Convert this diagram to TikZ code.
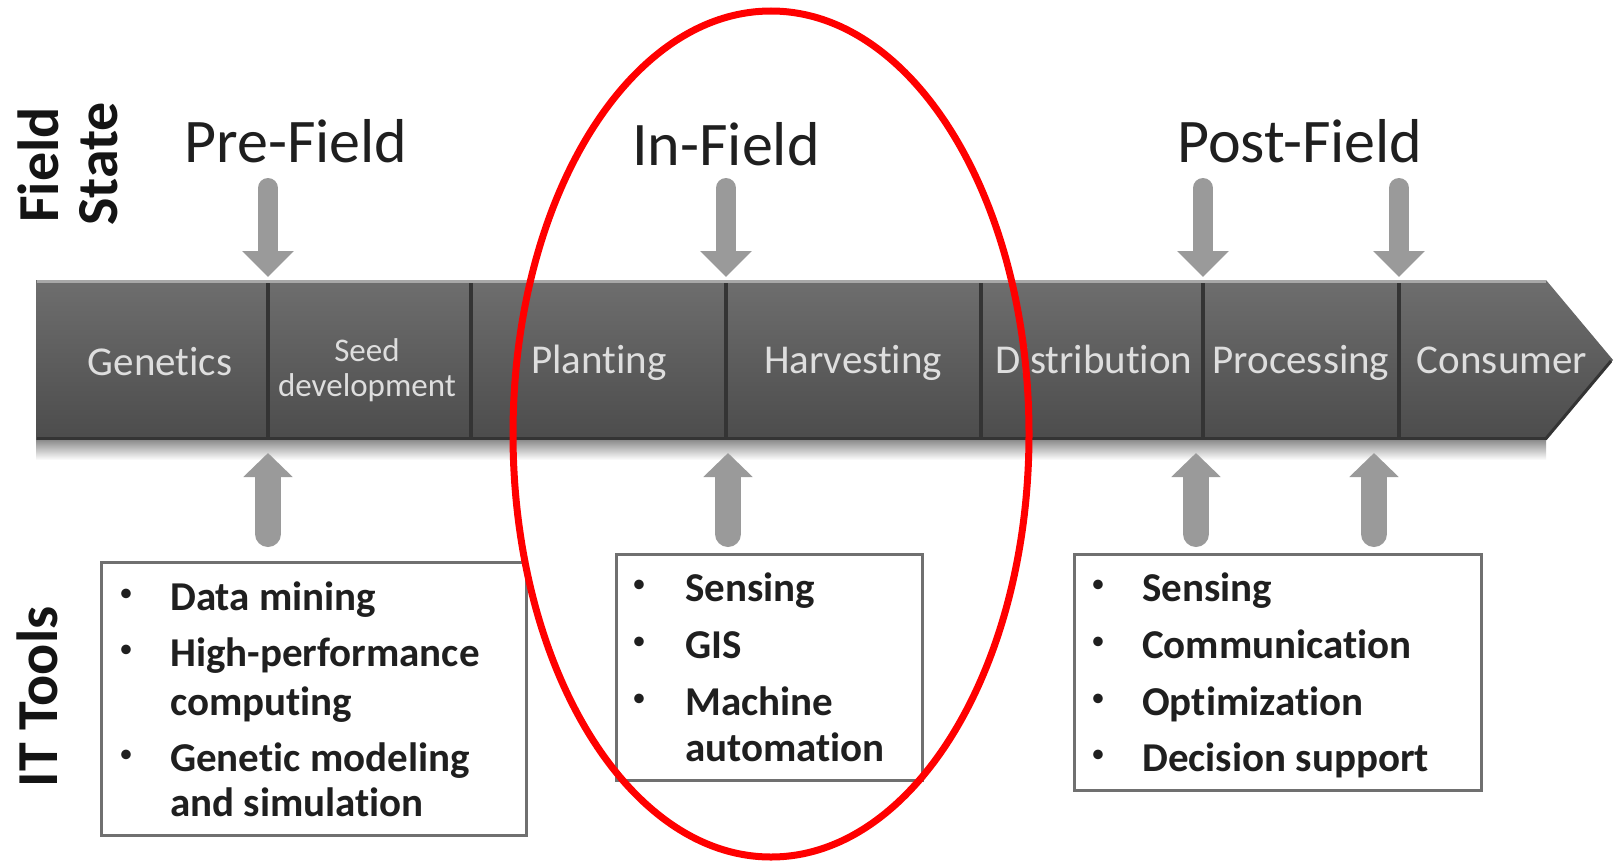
\documentclass[tikz,border=0pt]{standalone}
\usepackage{fontspec}
\setmainfont{Carlito}[Ligatures=NoCommon]
\usetikzlibrary{arrows.meta}
\definecolor{bartop}{HTML}{6E6E6E}
\definecolor{barbot}{HTML}{4C4C4C}
\definecolor{barhi}{HTML}{A8A8A8}
\definecolor{bardark}{HTML}{343434}
\definecolor{barlabc}{HTML}{DEDEDE}
\definecolor{arrowgray}{HTML}{9A9A9A}
\definecolor{boxgray}{HTML}{707070}
\definecolor{ovalred}{HTML}{FF0000}
\tikzset{
  hdr/.style={font=\fontsize{62}{70}\selectfont, text=black!88, anchor=base, inner sep=0pt},
  barlab/.style={font=\fontsize{41}{46}\selectfont, text=barlabc, anchor=base, inner sep=0pt},
  smallbarlab/.style={font=\fontsize{33}{38}\selectfont, text=barlabc, anchor=base, inner sep=0pt},
  sidelab/.style={font=\bfseries\fontsize{58}{64}\selectfont, text=black!92, rotate=90, anchor=base, inner sep=0pt},
  item/.style={font=\bfseries\fontsize{41}{46}\selectfont, text=black!88, anchor=base west, inner sep=0pt},
  bul/.style={font=\fontsize{27}{30}\selectfont, text=black!88, anchor=center, inner sep=0pt},
  toolbox/.style={draw=boxgray, line width=3pt, fill=white, inner sep=0pt},
  divider/.style={draw=bardark, line width=3.5pt},
  blockdown/.style={draw=arrowgray, line width=20pt, line cap=round, -{Triangle[width=50pt,length=26pt]}},
  blockup/.style={draw=arrowgray, line width=26pt, line cap=round, -{Triangle[width=48pt,length=24pt]}},
}
\begin{document}
\begin{tikzpicture}[x=1pt,y=-1pt]
\useasboundingbox (0,0) rectangle (1616,864);
\fill[white] (0,0) rectangle (1616,864);

% ---- process bar ----
\shade[top color=bartop, bottom color=barbot]
  (36,280) -- (1546,280) -- (1613,360) -- (1546,440) -- (36,440) -- cycle;
\draw[barhi, line width=3pt] (37,281.5) -- (1546,281.5);
\draw[bardark, line width=3pt] (37,438.5) -- (1546,438.5) -- (1611,361);
\shade[top color=black!45, bottom color=white] (36,440) rectangle (1546,460);

\coordinate (b1) at (268,280);
\coordinate (b2) at (471,280);
\coordinate (b3) at (726,280);
\coordinate (b4) at (981,280);
\coordinate (b5) at (1203,280);
\coordinate (b6) at (1399,280);
\foreach \c in {b1,b2,b3,b4,b5,b6}
  \draw[divider] ([yshift=-3pt]\c) -- ++(0,157);

% ---- bar labels ----
\node[barlab] (genetics) at (160,375) {Genetics};
\node[smallbarlab] (seed) at (367,361) {Seed};
\node[smallbarlab] (seeddev) at (367,396) {development};
\node[barlab] (planting) at (599,373) {Planting};
\node[barlab] (harvesting) at (853,373) {Harvesting};
\node[barlab] (distribution) at (1094,373) {Distribution};
\node[barlab] (processing) at (1301,373) {Processing};
\node[barlab] (consumer) at (1502,373) {Consumer};

% ---- headers ----
\node[hdr] (pre) at (296,162) {Pre-Field};
\node[hdr] (in) at (726,165) {In-Field};
\node[hdr] (post) at (1300,162) {Post-Field};

\node[sidelab] (field) at (58,165) {Field};
\node[sidelab] (state) at (117,164) {State};
\node[sidelab] (ittools) at (57,697) {IT Tools};

% ---- down arrows (field state -> bar) ----
\coordinate (s1) at (268,188);
\coordinate (s2) at (726,188);
\coordinate (s3) at (1203,188);
\coordinate (s4) at (1399,188);
\draw[blockdown] (s1) -- ([yshift=3pt]b1);
\draw[blockdown] (s2) -- ([yshift=3pt]b3);
\draw[blockdown] (s3) -- ([yshift=3pt]b5);
\draw[blockdown] (s4) -- ([yshift=3pt]b6);

% ---- tool boxes ----
\node[toolbox, minimum width=425pt, minimum height=273pt] (box1) at (313.5,698.5) {};
\node[toolbox, minimum width=306pt, minimum height=226pt] (box2) at (769,667) {};
\node[toolbox, minimum width=407pt, minimum height=236pt] (box3) at (1277.5,672) {};

% box 1
\node[bul] (b1i1) at (126,595) {•};
\node[item] (t1i1) at (170,610) {Data mining};
\node[bul] (b1i2) at (126,651) {•};
\node[item] (t1i2) at (170,666) {High-performance};
\node[item] (t1i2b) at (170,715) {computing};
\node[bul] (b1i3) at (126,756) {•};
\node[item] (t1i3) at (170,771) {Genetic modeling};
\node[item] (t1i3b) at (170,816) {and simulation};

% box 2
\node[bul] (b2i1) at (639,586) {•};
\node[item] (t2i1) at (685,601) {Sensing};
\node[bul] (b2i2) at (639,643) {•};
\node[item] (t2i2) at (685,658) {GIS};
\node[bul] (b2i3) at (639,700) {•};
\node[item] (t2i3) at (685,715) {Machine};
\node[item] (t2i3b) at (685,761) {automation};

% box 3
\node[bul] (b3i1) at (1098,586) {•};
\node[item] (t3i1) at (1142,601) {Sensing};
\node[bul] (b3i2) at (1098,643) {•};
\node[item] (t3i2) at (1142,658) {Communication};
\node[bul] (b3i3) at (1098,700) {•};
\node[item] (t3i3) at (1142,715) {Optimization};
\node[bul] (b3i4) at (1098,756) {•};
\node[item] (t3i4) at (1142,771) {Decision support};

% ---- up arrows (tools -> bar) ----
\coordinate (u1) at (268,534);
\coordinate (u2) at (728,534);
\coordinate (u3) at (1196,534);
\coordinate (u4) at (1374,534);
\coordinate (e1) at (268,453);
\coordinate (e2) at (728,453);
\coordinate (e3) at (1196,453);
\coordinate (e4) at (1374,453);
\draw[blockup] (u1) -- (e1);
\draw[blockup] (u2) -- (e2);
\draw[blockup] (u3) -- (e3);
\draw[blockup] (u4) -- (e4);

% ---- red highlight oval ----
\draw[ovalred, line width=7pt] (771,434) ellipse [x radius=258pt, y radius=423pt];
\end{tikzpicture}
\end{document}
